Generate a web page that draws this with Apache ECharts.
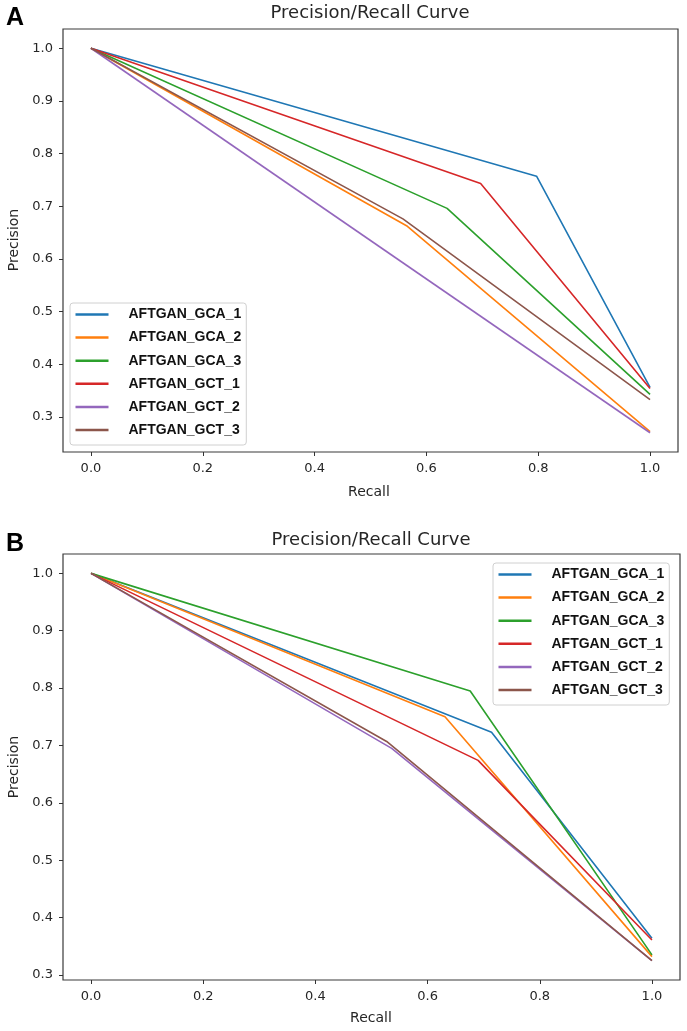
<!DOCTYPE html>
<html>
<head>
<meta charset="utf-8">
<script src="https://cdn.jsdelivr.net/npm/echarts@6/dist/echarts.min.js"></script>
<style>
html,body{margin:0;padding:0;background:#fff;}
#chart{width:687px;height:1031px;}
</style>
</head>
<body>
<div id="chart"></div>
<script>
// ---- data ----
const seriesNames = ['AFTGAN_GCA_1', 'AFTGAN_GCA_2', 'AFTGAN_GCA_3', 'AFTGAN_GCT_1', 'AFTGAN_GCT_2', 'AFTGAN_GCT_3'];
const seriesColors = ['#1f77b4', '#ff7f0e', '#2ca02c', '#d62728', '#9467bd', '#8c564b'];
const xTicks = [0.0, 0.2, 0.4, 0.6, 0.8, 1.0];
const yTicks = [0.3, 0.4, 0.5, 0.6, 0.7, 0.8, 0.9, 1.0];
const panelTitle = 'Precision/Recall Curve';
const xName = 'Recall';
const yName = 'Precision';

// Panel A: [recall, precision]
const a_GCA_1 = [[0, 1.0], [0.797, 0.757], [1.0, 0.356]];
const a_GCA_2 = [[0, 1.0], [0.566, 0.662], [1.0, 0.272]];
const a_GCA_3 = [[0, 1.0], [0.637, 0.696], [1.0, 0.343]];
const a_GCT_1 = [[0, 1.0], [0.697, 0.743], [1.0, 0.354]];
const a_GCT_2 = [[0, 1.0], [1.0, 0.270]];
const a_GCT_3 = [[0, 1.0], [0.558, 0.676], [1.0, 0.333]];

// Panel B: [recall, precision]
const b_GCA_1 = [[0, 1.0], [0.714, 0.723], [1.0, 0.364]];
const b_GCA_2 = [[0, 1.0], [0.631, 0.750], [1.0, 0.332]];
const b_GCA_3 = [[0, 1.0], [0.676, 0.795], [1.0, 0.335]];
const b_GCT_1 = [[0, 1.0], [0.690, 0.674], [1.0, 0.361]];
const b_GCT_2 = [[0, 1.0], [0.536, 0.695], [1.0, 0.325]];
const b_GCT_3 = [[0, 1.0], [0.527, 0.707], [1.0, 0.325]];

const panelA = [a_GCA_1, a_GCA_2, a_GCA_3, a_GCT_1, a_GCT_2, a_GCT_3];
const panelB = [b_GCA_1, b_GCA_2, b_GCA_3, b_GCT_1, b_GCT_2, b_GCT_3];

// ---- chart ----
const chart = echarts.init(document.getElementById('chart'), null, {renderer: 'canvas'});

const tickFont = {fontFamily: 'DejaVu Sans', fontSize: 13, color: '#262626'};

function makeX(gridIndex) {
  return {
    type: 'value', gridIndex: gridIndex, min: -0.05, max: 1.05,
    axisLine: {show: false, onZero: false},
    axisTick: {show: true, inside: false, length: 4, lineStyle: {color: '#333', width: 1}, customValues: xTicks},
    axisLabel: Object.assign({margin: 10, customValues: xTicks, formatter: v => v.toFixed(1)}, tickFont),
    splitLine: {show: false}
  };
}
function makeY(gridIndex, lo, hi) {
  return {
    type: 'value', gridIndex: gridIndex, min: lo, max: hi,
    axisLine: {show: false, onZero: false},
    axisTick: {show: true, inside: false, length: 4, lineStyle: {color: '#333', width: 1}, customValues: yTicks},
    axisLabel: Object.assign({margin: 10, customValues: yTicks, formatter: v => v.toFixed(1)}, tickFont),
    splitLine: {show: false}
  };
}

const series = [];
[panelA, panelB].forEach((panel, p) => {
  panel.forEach((d, i) => {
    series.push({
      type: 'line', name: seriesNames[i], xAxisIndex: p, yAxisIndex: p,
      data: d, symbol: 'none', showSymbol: false,
      lineStyle: {width: 1.6, color: seriesColors[i]},
      itemStyle: {color: seriesColors[i]},
      animation: false, silent: true
    });
  });
});

function makeLegend(left, top) {
  return {
    orient: 'vertical', left: left, top: top,
    data: seriesNames,
    icon: 'rect', itemWidth: 33, itemHeight: 2.5, itemGap: 9.1,
    padding: [4.5, 5, 8, 5.5],
    backgroundColor: 'rgba(255,255,255,0.85)', borderColor: '#d0d0d0', borderWidth: 1, borderRadius: 3,
    textStyle: {fontFamily: 'Liberation Sans', fontWeight: 'bold', fontSize: 14, lineHeight: 14, color: '#111', padding: [0, 0, 0, 15]},
    selectedMode: false
  };
}

function txt(x, y, text, opts) {
  return {
    type: 'text', x: x, y: y, silent: true,
    style: Object.assign({text: text, fill: '#262626', align: 'center', verticalAlign: 'middle', fontFamily: 'DejaVu Sans', fontSize: 14}, opts || {})
  };
}

const option = {
  animation: false,
  backgroundColor: '#fff',
  color: seriesColors,
  grid: [
    {left: 63, top: 29, width: 615, height: 423, show: true, borderColor: '#3a3a3a', borderWidth: 1.2, backgroundColor: 'transparent', containLabel: false},
    {left: 63, top: 554, width: 617, height: 426, show: true, borderColor: '#3a3a3a', borderWidth: 1.2, backgroundColor: 'transparent', containLabel: false}
  ],
  xAxis: [makeX(0), makeX(1)],
  yAxis: [makeY(0, 0.2335, 1.0365), makeY(1, 0.29125, 1.03375)],
  legend: [makeLegend(70, 303), makeLegend(493, 563)],
  series: series,
  graphic: [
    txt(15, 18, 'A', {fontFamily: 'Liberation Sans', fontWeight: 'bold', fontSize: 25, fill: '#000'}),
    txt(15, 544, 'B', {fontFamily: 'Liberation Sans', fontWeight: 'bold', fontSize: 25, fill: '#000'}),
    txt(370, 13, panelTitle, {fontSize: 18}),
    txt(371, 540, panelTitle, {fontSize: 18}),
    txt(369, 492, xName),
    txt(371, 1018, xName),
    Object.assign(txt(0, 0, yName), {x: 14, y: 240, rotation: Math.PI / 2}),
    Object.assign(txt(0, 0, yName), {x: 14, y: 767, rotation: Math.PI / 2})
  ]
};
chart.setOption(option);
</script>
</body>
</html>
